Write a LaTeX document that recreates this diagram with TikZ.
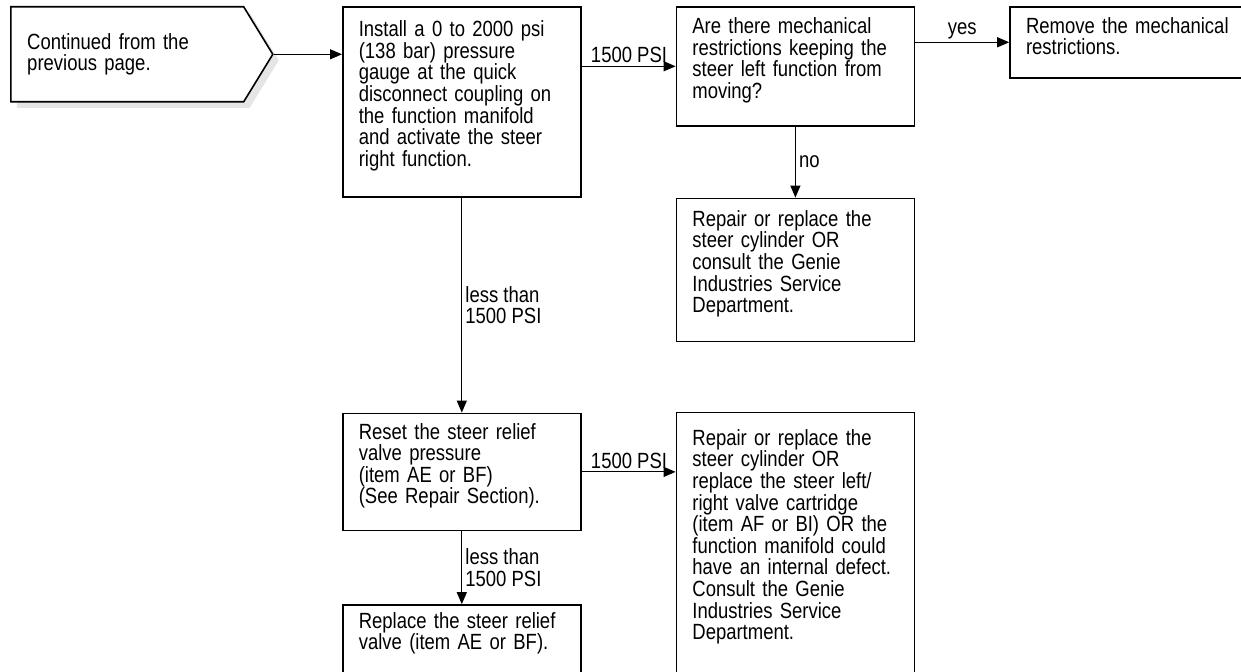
\documentclass[tikz,border=0pt]{standalone}
\usepackage{fontspec}
\setmainfont{Liberation Sans}[FakeStretch=0.84]
\usetikzlibrary{arrows.meta,positioning,shapes.symbols,shadows}
\newcommand\stepboxpad{\par\vskip6pt\hrule height0pt width0pt}

\begin{document}
\begin{tikzpicture}[stepbox/.style={draw,line width=0.8pt,align=left,text width=103pt,inner xsep=8pt,inner ysep=0pt,minimum width=119pt,font=\fontsize{11}{10.8}\selectfont,execute at end node=\stepboxpad},
  lbl/.style={font=\fontsize{11}{10.8}\selectfont,inner sep=1.5pt,align=left},
  >={Triangle[length=6pt,width=5pt]},flow/.style={->,line width=0.6pt}]
\useasboundingbox (0,0) rectangle (620.5pt,-336pt);
\node[signal,signal to=east,signal pointer angle=117,draw,line width=0.8pt,fill=white,
  drop shadow={shadow xshift=3pt,shadow yshift=-3pt,fill=gray!20,opacity=1},
  minimum width=131pt,minimum height=47.5pt,inner sep=0pt,text width=100pt,align=left,
  font=\fontsize{11}{10.8}\selectfont,anchor=north west] (start) at (5pt,-3pt) {Continued from the\\previous page.};
\node[stepbox,minimum height=95pt,anchor=north west] (install) at (171pt,-3pt) {Install a 0 to 2000 psi\\(138 bar) pressure\\gauge at the quick\\disconnect coupling on\\the function manifold\\and activate the steer\\right function.};
\node[stepbox,minimum height=59.5pt,right=47pt of install.north east,anchor=north west] (restrict) {Are there mechanical\\restrictions keeping the\\steer left function from\\moving?};
\node[stepbox,minimum height=35.5pt,right=47pt of restrict.north east,anchor=north west] (remove) {Remove the mechanical\\restrictions.};
\node[stepbox,minimum height=71.5pt,below=35.5pt of restrict] (cyl) {Repair or replace the\\steer cylinder OR\\consult the Genie\\Industries Service\\Department.};
\node[stepbox,minimum height=58.5pt,below=107.5pt of install] (reset) {Reset the steer relief\\valve pressure\\(item AE or BF)\\(See Repair Section).};
\node[stepbox,minimum height=130.5pt,right=47pt of reset.north east,anchor=north west,yshift=0.5pt] (cart) {Repair or replace the\\steer cylinder OR\\replace the steer left/\\right valve cartridge\\(item AF or BI) OR the\\function manifold could\\have an internal defect.\\Consult the Genie\\Industries Service\\Department.};
\node[stepbox,minimum height=34.5pt,below=36.5pt of reset] (relief) {Replace the steer relief\\valve (item AE or BF).};
% connectors
\draw[flow] (start.east)--(start.east -| install.west);
\draw[flow] (restrict.west -| install.east)--node[lbl,pos=1,above left,xshift=-2.5pt]{1500 PSI} (restrict.west);
\draw[flow] (remove.west -| restrict.east)--node[lbl,above]{yes} (remove.west);
\draw[flow] (restrict)--node[lbl,right]{no} (cyl);
\draw[flow] (install)--node[lbl,right]{less than\\1500 PSI} (reset);
\draw[flow] (reset.east)--node[lbl,pos=1,above left,xshift=-2.5pt]{1500 PSI} (reset.east -| cart.west);
\draw[flow] (reset)--node[lbl,right]{less than\\1500 PSI} (relief);
\end{tikzpicture}
\end{document}
